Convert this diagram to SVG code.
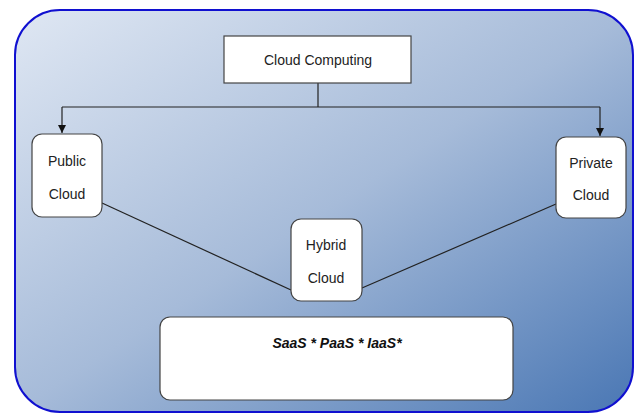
<svg xmlns="http://www.w3.org/2000/svg" width="639" height="414" viewBox="0 0 639 414">
  <defs>
    <linearGradient id="bg" x1="0" y1="0" x2="1" y2="1">
      <stop offset="0" stop-color="#dfe7f3"/>
      <stop offset="0.5" stop-color="#a6bbd9"/>
      <stop offset="1" stop-color="#4a77b4"/>
    </linearGradient>
    <marker id="arrow" viewBox="0 0 10 10" refX="10" refY="5" markerWidth="8" markerHeight="9" markerUnits="userSpaceOnUse" orient="auto">
      <path d="M0,0 L10,5 L0,10 Z" fill="#111"/>
    </marker>
  </defs>
  <style>
    .node { fill: #ffffff; stroke: #444; stroke-width: 1.2; }
    .lbl { font-family: "Liberation Sans", Arial, sans-serif; font-size: 14px; fill: #222; text-anchor: middle; }
    .svc { font-family: "Liberation Sans", Arial, sans-serif; font-size: 14px; font-weight: bold; font-style: italic; fill: #111; text-anchor: middle; }
    .link { fill: none; stroke: #222; stroke-width: 1.2; }
  </style>

  <rect width="639" height="414" fill="#ffffff"/>
  <!-- frame -->
  <rect x="15" y="10" width="618" height="402" rx="45" ry="45" fill="url(#bg)" stroke="#1010d0" stroke-width="2"/>

  <g id="connectors">
    <path class="link" d="M318,83 V107 M62,107 H600"/>
    <path class="link" d="M62,107 V133" marker-end="url(#arrow)"/>
    <path class="link" d="M600,107 V136" marker-end="url(#arrow)"/>
    <path class="link" d="M102,203 L291,290"/>
    <path class="link" d="M556,204 L362,288"/>
  </g>

  <g id="cloud-computing">
    <rect class="node" x="224" y="36" width="187" height="47"/>
    <text class="lbl" x="318" y="65">Cloud Computing</text>
  </g>

  <g id="public-cloud">
    <rect class="node" x="32" y="134" width="70" height="83" rx="10" ry="10"/>
    <text class="lbl" x="67" y="166">Public</text>
    <text class="lbl" x="67" y="199">Cloud</text>
  </g>

  <g id="private-cloud">
    <rect class="node" x="556" y="137" width="70" height="81" rx="10" ry="10"/>
    <text class="lbl" x="591" y="168">Private</text>
    <text class="lbl" x="591" y="200">Cloud</text>
  </g>

  <g id="hybrid-cloud">
    <rect class="node" x="291" y="219" width="71" height="82" rx="10" ry="10"/>
    <text class="lbl" x="326" y="250">Hybrid</text>
    <text class="lbl" x="326" y="283">Cloud</text>
  </g>

  <g id="services">
    <rect class="node" x="160" y="317" width="353" height="83" rx="10" ry="10"/>
    <text class="svc" x="337" y="348">SaaS * PaaS * IaaS*</text>
  </g>
</svg>
